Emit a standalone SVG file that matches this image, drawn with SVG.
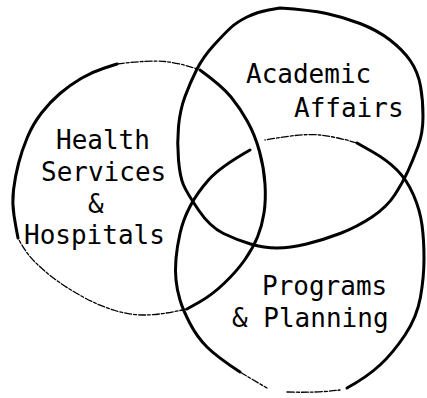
<svg xmlns="http://www.w3.org/2000/svg" width="427" height="398" viewBox="0 0 427 398">
  <style>
    .ink { fill: none; stroke: #000; stroke-width: 3; stroke-linecap: round; stroke-linejoin: round; }
    .faint { fill: none; stroke: #000; stroke-width: 1.3; stroke-linecap: round; stroke-dasharray: 7 2 3 2; }
    .label { font-family: "DejaVu Sans Mono", "Liberation Mono", monospace; font-size: 26px; fill: #000; }
  </style>
  <rect width="427" height="398" fill="#fff"/>

  <g id="health">
    <path class="ink" d="M 200,70 Q 222,86 231,97 Q 240,108 247.5,121.5 Q 255,135 259.5,151.5 Q 264,168 265,184 Q 266,200 264,213 Q 262,226 257.5,237 Q 253,248 245,259.5 Q 237,271 224.5,283 Q 212,295 199.5,302 L 187,309"/>
    <path class="faint" d="M 187,309 Q 160,315 145,315 Q 130,315 115,310.5 Q 100,306 85,298 Q 70,290 57.5,281 Q 45,272 35,262 Q 25,252 18,238"/>
    <path class="ink" d="M 18,238 Q 16,228 14,215.5 Q 12,203 13.5,190 Q 15,177 18.5,163.5 Q 22,150 27.5,137 Q 33,124 41.5,113 Q 50,102 60,93.5 Q 70,85 81,78.5 Q 92,72 104.5,68 L 117,64"/>
    <path class="faint" d="M 117,64 Q 150,60 165,61.5 Q 180,63 200,70"/>
    <text class="label" x="56" y="149">Health</text>
    <text class="label" x="41" y="181">Services</text>
    <text class="label" x="88" y="213">&amp;</text>
    <text class="label" x="24" y="244">Hospitals</text>
  </g>

  <g id="academic">
    <path class="ink" d="M 280,8 Q 310,10 326.5,13.5 Q 343,17 360,23.5 Q 377,30 390,40 Q 403,50 410.5,61 Q 418,72 420.5,86 Q 423,100 423,116.5 Q 423,133 418,146.5 Q 413,160 408,171 Q 403,182 395,194.5 Q 387,207 372,217 Q 357,227 340,233.5 Q 323,240 306.5,244 Q 290,248 277,248 Q 264,248 250.5,244 Q 237,240 223.5,233.5 Q 210,227 198.5,210 Q 187,193 183.5,185 Q 180,177 178.5,160 Q 177,143 178.5,126.5 Q 180,110 185,96.5 Q 190,83 196.5,70 Q 203,57 214,45 Q 225,33 231,27.5 Q 237,22 247,17 Q 257,12 268.5,10 Z"/>
    <text class="label" x="246" y="83">Academic</text>
    <text class="label" x="294" y="117">Affairs</text>
  </g>

  <g id="programs">
    <path class="ink" d="M 250,150 Q 220,167 208.5,180 Q 197,193 190,206.5 Q 183,220 180,233.5 Q 177,247 176,258.5 Q 175,270 176,280 Q 177,290 180,300 Q 183,310 190,323.5 Q 197,337 207,347 Q 217,357 240,372"/>
    <path class="faint" d="M 240,372 Q 255,381 267,388"/>
    <path class="faint" d="M 287,392 Q 317,393 340,390"/>
    <path class="ink" d="M 347,388 Q 367,377 380,365 Q 393,353 405,335 Q 417,317 420.5,297 Q 424,277 424,258.5 Q 424,240 422,225 Q 420,210 413.5,195 Q 407,180 397,170 Q 387,160 372,151.5 L 357,143"/>
    <path class="faint" d="M 357,143 Q 337,137 320,135 Q 303,133 265,140"/>
    <text class="label" x="262" y="295">Programs</text>
    <text class="label" x="232" y="327">&amp; Planning</text>
  </g>
</svg>
